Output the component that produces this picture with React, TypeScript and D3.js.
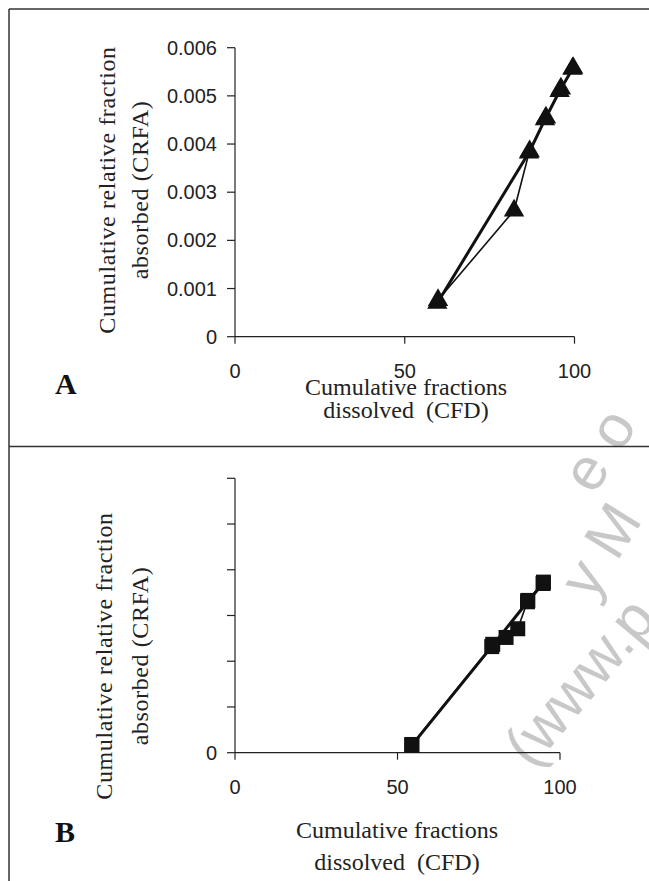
import React from "react";
import * as d3 from "d3";

// axis ticks
const xTicks = [0, 50, 100];
const yTicks = [0, 0.001, 0.002, 0.003, 0.004, 0.005, 0.006];
const yTickLabelsA = ["0", "0.001", "0.002", "0.003", "0.004", "0.005", "0.006"];
const yTickLabelsB = ["0", "", "", "", "", "", ""];

// panel A (triangles)
const cfdA1 = [59.8, 82.2, 86.6, 91.6, 96.0, 99.6];
const crfaA1 = [0.00076, 0.00262, 0.00382, 0.00455, 0.00515, 0.00558];
const cfdA2 = [59.6, 86.8, 91.3, 95.6, 99.4];
const crfaA2 = [0.0007, 0.00385, 0.00451, 0.0051, 0.00556];

// panel B (squares)
const cfdB1 = [54.4, 79.3, 83.4, 87.0, 90.1, 94.9];
const crfaB1 = [0.00018, 0.00237, 0.00252, 0.00271, 0.00333, 0.00373];
const cfdB2 = [54.4, 79.0, 90.0, 94.8];
const crfaB2 = [0.00016, 0.00232, 0.0033, 0.0037];

const serif = "'Liberation Serif', 'Times New Roman', serif";
const sans = "'Liberation Sans', Arial, sans-serif";

type Series = { xs: number[]; ys: number[]; width: number };

const Panel = ({
  x0, x1, y0, y1, series, marker, yLabels, letter, letterY, letterSize,
  titleX, titleY1, titleY2, ylabX1, ylabX2, ylabY,
}: any) => {
  const x = d3.scaleLinear().domain([0, 100]).range([x0, x1]);
  const y = d3.scaleLinear().domain([0, 0.006]).range([y0, y1]);
  const line = d3.line<[number, number]>().x(d => x(d[0])).y(d => y(d[1]));
  const sym = marker === "triangle"
    ? d3.symbol(d3.symbolTriangle, 180)()
    : d3.symbol(d3.symbolSquare, 225)();
  return (
    <g>
      {/* axes */}
      <line x1={x0} x2={x0} y1={y1} y2={y0} stroke="#222" strokeWidth={1.2} />
      <line x1={x0} x2={x1} y1={y0} y2={y0} stroke="#222" strokeWidth={1.2} />
      {yTicks.map((t, i) => (
        <g key={"y" + i}>
          <line x1={x0 - 8} x2={x0} y1={y(t)} y2={y(t)} stroke="#222" strokeWidth={1.2} />
          <text x={x0 - 18} y={y(t)} dy="0.35em" textAnchor="end"
            fontFamily={sans} fontSize={20} fill="#222">{yLabels[i]}</text>
        </g>
      ))}
      {xTicks.map((t, i) => (
        <g key={"x" + i}>
          <line x1={x(t)} x2={x(t)} y1={y0} y2={y0 + 7} stroke="#222" strokeWidth={1.2} />
          <text x={x(t)} y={y0 + 34} dy="0.35em" textAnchor="middle"
            fontFamily={sans} fontSize={20} fill="#222">{t}</text>
        </g>
      ))}
      {/* series */}
      {series.map((s: Series, i: number) => (
        <path key={"l" + i} d={line(s.xs.map((v, j) => [v, s.ys[j]]) as [number, number][]) || ""}
          fill="none" stroke="#111" strokeWidth={s.width} />
      ))}
      {series.map((s: Series, i: number) =>
        s.xs.map((v, j) => (
          <path key={"m" + i + "-" + j} d={sym || ""} fill="#111"
            transform={`translate(${x(v)},${y(s.ys[j])})`} />
        ))
      )}
      {/* titles */}
      <text x={titleX} y={titleY1} textAnchor="middle" fontFamily={serif} fontSize={24} fill="#222">
        Cumulative fractions
      </text>
      <text x={titleX} y={titleY2} textAnchor="middle" fontFamily={serif} fontSize={24} fill="#222"
        style={{ whiteSpace: "pre" }}>
        {"dissolved  (CFD)"}
      </text>
      <text transform={`translate(${ylabX1},${ylabY}) rotate(-90)`} textAnchor="middle"
        fontFamily={serif} fontSize={24} letterSpacing={0.6} fill="#222">
        Cumulative relative fraction
      </text>
      <text transform={`translate(${ylabX2},${ylabY}) rotate(-90)`} textAnchor="middle"
        fontFamily={serif} fontSize={24} letterSpacing={0.6} fill="#222">
        absorbed (CRFA)
      </text>
      <text x={55} y={letterY} fontFamily={serif} fontWeight="bold" fontSize={letterSize} fill="#111">
        {letter}
      </text>
    </g>
  );
};

export default function App() {
  const wm = "#c8c8c8";
  return (
    <svg width={649} height={881} style={{ position: "absolute", left: 0, top: 0, background: "#fff" }}>
      <rect width={649} height={881} fill="#fff" />
      {/* watermark, clipped by the page edge as in the scan */}
      <g fill={wm} fontFamily={sans} fontSize={60}>
        <text transform="translate(532,770) rotate(-50)">(www.p</text>
        <text transform="translate(592,602) rotate(-58)">y M</text>
        <text transform="translate(594,496) rotate(-58)">{"e  o"}</text>
      </g>
      {/* frame */}
      <line x1={9} x2={649} y1={9} y2={9} stroke="#333" strokeWidth={1.5} />
      <line x1={9} x2={9} y1={9} y2={881} stroke="#333" strokeWidth={1.5} />
      <line x1={9} x2={649} y1={446.5} y2={446.5} stroke="#333" strokeWidth={1.5} />
      <Panel x0={235} x1={574.5} y0={336.7} y1={47.7}
        series={[{ xs: cfdA1, ys: crfaA1, width: 1.6 }, { xs: cfdA2, ys: crfaA2, width: 3 }]}
        marker="triangle" yLabels={yTickLabelsA} letter="A" letterY={394} letterSize={30}
        titleX={406} titleY1={395} titleY2={418} ylabX1={115} ylabX2={148} ylabY={190} />
      <Panel x0={235} x1={560} y0={752.7} y1={478.3}
        series={[{ xs: cfdB1, ys: crfaB1, width: 1.6 }, { xs: cfdB2, ys: crfaB2, width: 3 }]}
        marker="square" yLabels={yTickLabelsB} letter="B" letterY={842} letterSize={30}
        titleX={397} titleY1={838} titleY2={870} ylabX1={112} ylabX2={148} ylabY={656} />
    </svg>
  );
}
